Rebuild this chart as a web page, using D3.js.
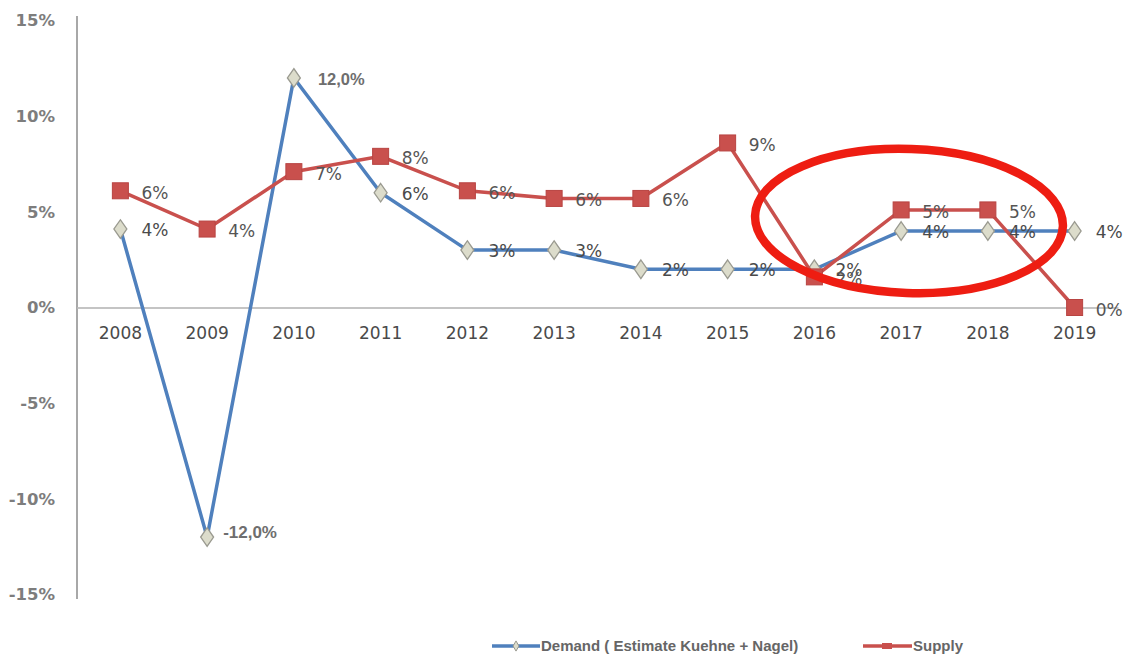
<!DOCTYPE html>
<html>
<head>
<meta charset="utf-8">
<script src="https://cdn.jsdelivr.net/npm/d3@7"></script>
<style>
  body { margin: 0; background: #fff; }
  svg { display: block; }
</style>
</head>
<body>
<div id="chart"></div>
<script>
// data
var years = ["2008", "2009", "2010", "2011", "2012", "2013", "2014", "2015", "2016", "2017", "2018", "2019"];
var demand = [4.1, -12.0, 12.0, 6.0, 3.0, 3.0, 2.0, 2.0, 2.0, 4.0, 4.0, 4.0];
var supply = [6.1, 4.1, 7.1, 7.9, 6.1, 5.7, 5.7, 8.6, 1.6, 5.1, 5.1, 0.0];
var demandLabels = ["4%", "-12,0%", "12,0%", "6%", "3%", "3%", "2%", "2%", "2%", "4%", "4%", "4%"];
var supplyLabels = ["6%", "4%", "7%", "8%", "6%", "6%", "6%", "9%", "2%", "5%", "5%", "0%"];
var yTicks = [-15, -10, -5, 0, 5, 10, 15];
var seriesNames = ["Demand ( Estimate Kuehne + Nagel)", "Supply"];

function init() {
    var w = 1139;
    var h = 657;

    var blue = "#4f80bd";
    var red = "#c9504d";

    var svg = d3.select("#chart")
                .append("svg")
                .attr("width", w)
                .attr("height", h);

    var x = d3.scaleBand()
              .domain(years)
              .range([77, 1118]);

    var y = d3.scaleLinear()
              .domain([-15, 15])
              .range([594.5, 20.5]);

    function cx(i) { return x(years[i]) + x.bandwidth() / 2; }

    // y axis
    var yAxis = svg.append("g")
        .attr("transform", "translate(77,0)")
        .call(d3.axisLeft(y).tickValues(yTicks).tickSize(0).tickPadding(22)
              .tickFormat(function(d) { return d + "%"; }));
    yAxis.select(".domain").attr("stroke", "#a8a8a8").attr("stroke-width", 2)
         .attr("d", "M0,16V599");
    yAxis.selectAll("text")
         .attr("font-family", "DejaVu Sans")
         .attr("font-weight", "bold")
         .attr("font-size", 16.5)
         .attr("fill", "#7d7d7d");

    // x axis along zero
    var xAxis = svg.append("g")
        .attr("transform", "translate(0," + y(0) + ")")
        .call(d3.axisBottom(x).tickSize(0).tickPadding(19));
    xAxis.select(".domain").attr("stroke", "#c4c4c4").attr("stroke-width", 2);
    xAxis.selectAll("text")
         .attr("font-family", "DejaVu Sans")
         .attr("font-size", 17)
         .attr("fill", "#4a4a4a");

    var line = d3.line()
                 .x(function(d, i) { return cx(i); })
                 .y(function(d) { return y(d); });

    // demand
    svg.append("path")
       .datum(demand)
       .attr("d", line)
       .attr("fill", "none")
       .attr("stroke", blue)
       .attr("stroke-width", 3.5);

    svg.selectAll("path.dia")
       .data(demand)
       .enter()
       .append("path")
       .attr("class", "dia")
       .attr("d", d3.symbol(d3.symbolDiamond, 110))
       .attr("transform", function(d, i) { return "translate(" + cx(i) + "," + y(d) + ") scale(1.15,0.95)"; })
       .attr("fill", "#dcdccb")
       .attr("stroke", "#9a9a90")
       .attr("stroke-width", 1.2);

    // supply
    svg.append("path")
       .datum(supply)
       .attr("d", line)
       .attr("fill", "none")
       .attr("stroke", red)
       .attr("stroke-width", 3.5);

    svg.selectAll("rect.sq")
       .data(supply)
       .enter()
       .append("rect")
       .attr("class", "sq")
       .attr("x", function(d, i) { return cx(i) - 8; })
       .attr("y", function(d) { return y(d) - 8; })
       .attr("width", 16)
       .attr("height", 16)
       .attr("fill", red)
       .attr("stroke", "#b84442");

    // data labels
    function big(i) { return i == 1 || i == 2; }
    svg.selectAll("text.dl")
       .data(demand)
       .enter()
       .append("text")
       .attr("class", "dl")
       .attr("x", function(d, i) { return cx(i) + (i == 1 ? 16 : (i == 2 ? 24 : 21)); })
       .attr("y", function(d, i) { return y(d) + (i == 1 ? -5 : 1); })
       .attr("dominant-baseline", "central")
       .attr("font-family", function(d, i) { return big(i) ? "Liberation Sans" : "DejaVu Sans"; })
       .attr("font-weight", function(d, i) { return big(i) ? "bold" : "normal"; })
       .attr("font-size", function(d, i) { return i == 1 ? 17 : (i == 2 ? 16.5 : 17); })
       .attr("fill", function(d, i) { return big(i) ? "#6e6e6e" : "#4a4a4a"; })
       .text(function(d, i) { return demandLabels[i]; });

    svg.selectAll("text.sl")
       .data(supply)
       .enter()
       .append("text")
       .attr("class", "sl")
       .attr("x", function(d, i) { return cx(i) + 21; })
       .attr("y", function(d) { return y(d) + 2; })
       .attr("dominant-baseline", "central")
       .attr("font-family", "DejaVu Sans")
       .attr("font-size", 17)
       .attr("fill", "#555")
       .text(function(d, i) { return supplyLabels[i]; });

    // legend
    var legend = svg.append("g");
    var legX = [492, 863];
    var legLen = [48, 49];
    [blue, red].forEach(function(c, i) {
        legend.append("line")
              .attr("x1", legX[i]).attr("x2", legX[i] + legLen[i])
              .attr("y1", 646).attr("y2", 646)
              .attr("stroke", c).attr("stroke-width", 3.5);
        if (i == 0) {
            legend.append("path")
                  .attr("d", d3.symbol(d3.symbolDiamond, 30))
                  .attr("transform", "translate(" + (legX[i] + 24) + ",646)")
                  .attr("fill", "#dcdccb").attr("stroke", "#9a9a90");
        } else {
            legend.append("rect")
                  .attr("x", legX[i] + 19).attr("y", 643)
                  .attr("width", 10).attr("height", 6)
                  .attr("fill", red);
        }
        legend.append("text")
              .attr("x", legX[i] + legLen[i] + 1)
              .attr("y", 645)
              .attr("dominant-baseline", "central")
              .attr("font-family", "Liberation Sans")
              .attr("font-weight", "bold")
              .attr("font-size", 15)
              .attr("fill", "#666")
              .text(seriesNames[i]);
    });

    // red highlight ring
    svg.append("ellipse")
       .attr("cx", 909)
       .attr("cy", 221)
       .attr("rx", 154)
       .attr("ry", 72)
       .attr("transform", "rotate(2,909,221)")
       .attr("fill", "none")
       .attr("stroke", "#ee1d12")
       .attr("stroke-width", 8.5);
}
window.onload = init;
</script>
</body>
</html>
